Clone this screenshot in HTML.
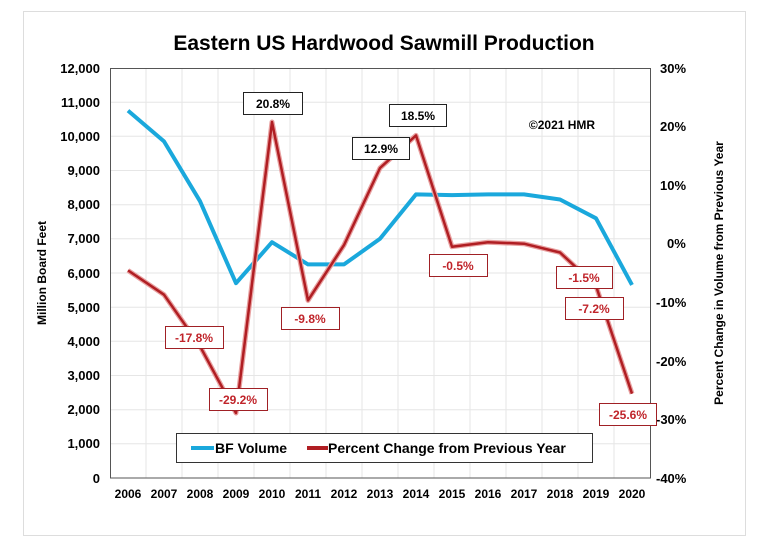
<!DOCTYPE html>
<html><head><meta charset="utf-8"><style>
body{margin:0;background:#fff;}
svg{display:block;font-family:"Liberation Sans",Arial,sans-serif;}
</style></head><body>
<svg width="768" height="550" viewBox="0 0 768 550" xmlns="http://www.w3.org/2000/svg">
<rect x="23.5" y="11.5" width="722" height="524" fill="#fff" stroke="#ddd"/>
<text x="384" y="50" text-anchor="middle" font-size="21" font-weight="bold">Eastern US Hardwood Sawmill Production</text>
<g stroke="#e6e6e6" stroke-width="1">
<line x1="110" y1="102.2" x2="651" y2="102.2"/><line x1="110" y1="136.3" x2="651" y2="136.3"/><line x1="110" y1="170.5" x2="651" y2="170.5"/><line x1="110" y1="204.7" x2="651" y2="204.7"/><line x1="110" y1="238.8" x2="651" y2="238.8"/><line x1="110" y1="273" x2="651" y2="273"/><line x1="110" y1="307.2" x2="651" y2="307.2"/><line x1="110" y1="341.3" x2="651" y2="341.3"/><line x1="110" y1="375.5" x2="651" y2="375.5"/><line x1="110" y1="409.7" x2="651" y2="409.7"/><line x1="110" y1="443.8" x2="651" y2="443.8"/>
<line x1="146" y1="68" x2="146" y2="478"/><line x1="182" y1="68" x2="182" y2="478"/><line x1="218" y1="68" x2="218" y2="478"/><line x1="254" y1="68" x2="254" y2="478"/><line x1="290" y1="68" x2="290" y2="478"/><line x1="326" y1="68" x2="326" y2="478"/><line x1="362" y1="68" x2="362" y2="478"/><line x1="398" y1="68" x2="398" y2="478"/><line x1="434" y1="68" x2="434" y2="478"/><line x1="470" y1="68" x2="470" y2="478"/><line x1="506" y1="68" x2="506" y2="478"/><line x1="542" y1="68" x2="542" y2="478"/><line x1="578" y1="68" x2="578" y2="478"/><line x1="614" y1="68" x2="614" y2="478"/>
</g>
<rect x="110.5" y="68.5" width="540" height="409.5" fill="none" stroke="#555" stroke-width="1"/>
<g font-size="13" font-weight="bold" text-anchor="end">
<text x="100" y="73">12,000</text><text x="100" y="107">11,000</text><text x="100" y="141">10,000</text><text x="100" y="175">9,000</text><text x="100" y="209">8,000</text><text x="100" y="243">7,000</text><text x="100" y="278">6,000</text><text x="100" y="312">5,000</text><text x="100" y="346">4,000</text><text x="100" y="380">3,000</text><text x="100" y="414">2,000</text><text x="100" y="448">1,000</text><text x="100" y="483">0</text>
</g>
<g font-size="13" font-weight="bold" text-anchor="start">
<text x="660" y="73">30%</text><text x="660" y="131">20%</text><text x="660" y="190">10%</text><text x="667" y="248">0%</text><text x="656" y="307">-10%</text><text x="656" y="366">-20%</text><text x="656" y="424">-30%</text><text x="656" y="483">-40%</text>
</g>
<g font-size="12" font-weight="bold" text-anchor="middle">
<text x="128" y="498">2006</text><text x="164" y="498">2007</text><text x="200" y="498">2008</text><text x="236" y="498">2009</text><text x="272" y="498">2010</text><text x="308" y="498">2011</text><text x="344" y="498">2012</text><text x="380" y="498">2013</text><text x="416" y="498">2014</text><text x="452" y="498">2015</text><text x="488" y="498">2016</text><text x="524" y="498">2017</text><text x="560" y="498">2018</text><text x="596" y="498">2019</text><text x="632" y="498">2020</text>
</g>
<text transform="translate(46,273) rotate(-90)" text-anchor="middle" font-size="12" font-weight="bold">Million Board Feet</text>
<text transform="translate(723,273) rotate(-90)" text-anchor="middle" font-size="12" font-weight="bold">Percent Change in Volume from Previous Year</text>
<polyline fill="none" stroke="#1aa8dc" stroke-width="4" stroke-linejoin="round" points="128,110.6 164,141.4 200,201.2 236,283.2 272,242.2 308,264.4 344,264.4 380,238.8 416,194.4 452,195.1 488,194.4 524,194.4 560,199.5 596,218.3 632,284.9"/>
<polyline fill="none" stroke="#e8a0a0" stroke-width="5" stroke-linejoin="round" points="128,270.4 164,294.7 200,346.2 236,413 272,122 308,300.4 344,245.1 380,168 416,135.4 452,246.7 488,242.2 524,243.7 560,252.5 596,285.9 632,393.7"/>
<polyline fill="none" stroke="#b01e23" stroke-width="2.5" stroke-linejoin="round" points="128,270.4 164,294.7 200,346.2 236,413 272,122 308,300.4 344,245.1 380,168 416,135.4 452,246.7 488,242.2 524,243.7 560,252.5 596,285.9 632,393.7"/>
<g font-size="12" font-weight="bold" text-anchor="middle">
<rect x="243.5" y="92.5" width="59" height="22" fill="#fff" stroke="#222"/><text x="273" y="108">20.8%</text>
<rect x="352.5" y="137.5" width="57" height="22" fill="#fff" stroke="#222"/><text x="381" y="153">12.9%</text>
<rect x="389.5" y="104.5" width="57" height="22" fill="#fff" stroke="#222"/><text x="418" y="120">18.5%</text>
<text x="562" y="129" font-size="12">©2021 HMR</text>
<g fill="#c0242a">
<rect x="429.5" y="254.5" width="58" height="22" fill="#fff" stroke="#a02025"/><text x="458" y="270">-0.5%</text>
<rect x="556.5" y="266.5" width="56" height="22" fill="#fff" stroke="#a02025"/><text x="584" y="282">-1.5%</text>
<rect x="565.5" y="297.5" width="58" height="22" fill="#fff" stroke="#a02025"/><text x="594" y="313">-7.2%</text>
<rect x="165.5" y="326.5" width="58" height="22" fill="#fff" stroke="#a02025"/><text x="194" y="342">-17.8%</text>
<rect x="281.5" y="307.5" width="58" height="22" fill="#fff" stroke="#a02025"/><text x="310" y="323">-9.8%</text>
<rect x="209.5" y="388.5" width="58" height="22" fill="#fff" stroke="#a02025"/><text x="238" y="404">-29.2%</text>
<rect x="599.5" y="403.5" width="57" height="22" fill="#fff" stroke="#a02025"/><text x="628" y="419">-25.6%</text>
</g>
</g>
<rect x="176.5" y="433.5" width="416" height="29" fill="#fff" stroke="#333"/>
<line x1="191" y1="448" x2="214" y2="448" stroke="#1aa8dc" stroke-width="4"/>
<text x="215" y="453" font-size="14" font-weight="bold">BF Volume</text>
<line x1="307" y1="448" x2="328" y2="448" stroke="#b01e23" stroke-width="4"/>
<text x="328" y="453" font-size="14" font-weight="bold">Percent Change from Previous Year</text>
</svg>
</body></html>
